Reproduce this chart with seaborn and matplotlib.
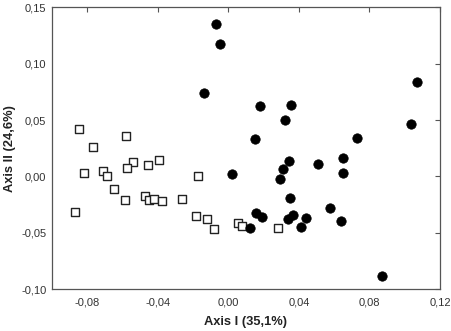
import matplotlib
matplotlib.use("Agg")
import matplotlib.pyplot as plt
import seaborn as sns
import pandas as pd
from matplotlib.ticker import FuncFormatter, FixedLocator

# Group A (open squares)
sq_x = [-0.0845, -0.0579, -0.0768, -0.0817, -0.0708, -0.0687, -0.0538, -0.0577,
        -0.0458, -0.0392, -0.0649, -0.0586, -0.0470, -0.0450, -0.0424, -0.0377,
        -0.0261, -0.0868, -0.0171, -0.0182, -0.0120, -0.0080, 0.0052, 0.0080, 0.0280]
sq_y = [0.0423, 0.0357, 0.0263, 0.0028, 0.0048, 0.0006, 0.0126, 0.0071,
        0.0104, 0.0142, -0.0109, -0.0207, -0.0177, -0.0211, -0.0198, -0.0215,
        -0.0198, -0.0317, 0.0006, -0.0346, -0.0378, -0.0466, -0.0408, -0.0443, -0.0457]

# Group B (filled circles)
ci_x = [-0.0071, -0.0048, -0.0139, 0.0177, 0.0150, 0.1068, 0.0358, 0.0320,
        0.1037, 0.0727, 0.0649, 0.0341, 0.0509, 0.0309, 0.0649, 0.0290,
        0.0020, 0.0350, 0.0577, 0.0158, 0.0190, 0.0339, 0.0369, 0.0441,
        0.0639, 0.0410, 0.0122, 0.0870]
ci_y = [0.1354, 0.1174, 0.0742, 0.0621, 0.0334, 0.0835, 0.0633, 0.0503,
        0.0463, 0.0345, 0.0166, 0.0135, 0.0114, 0.0070, 0.0031, -0.0020,
        0.0024, -0.0191, -0.0277, -0.0326, -0.0359, -0.0377, -0.0344, -0.0369,
        -0.0399, -0.0448, -0.0461, -0.0880]

x_ticks = [-0.08, -0.04, 0.00, 0.04, 0.08, 0.12]
y_ticks = [-0.10, -0.05, 0.00, 0.05, 0.10, 0.15]
x_label = "Axis I (35,1%)"
y_label = "Axis II (24,6%)"

sns.set_style("white")
plt.rcParams['font.family'] = ['Liberation Sans', 'DejaVu Sans']

fig = plt.figure(figsize=(4.51, 3.31), dpi=100)
ax = fig.add_axes([0.1153, 0.126, 0.8603, 0.852])

df_sq = pd.DataFrame({"x": sq_x, "y": sq_y})
df_ci = pd.DataFrame({"x": ci_x, "y": ci_y})

sns.scatterplot(data=df_sq, x="x", y="y", ax=ax, marker="s", s=36,
                facecolor="white", edgecolor="#222222", linewidth=1.0, zorder=3)
sns.scatterplot(data=df_ci, x="x", y="y", ax=ax, marker="o", s=46,
                color="black", edgecolor="black", linewidth=0.5, zorder=4)

ax.set_xlim(-0.10, 0.12)
ax.set_ylim(-0.10, 0.15)
ax.xaxis.set_major_locator(FixedLocator(x_ticks))
ax.yaxis.set_major_locator(FixedLocator(y_ticks))
fmt = FuncFormatter(lambda v, p: f"{v:.2f}".replace(".", ",").replace("-0,00", "0,00"))
ax.xaxis.set_major_formatter(fmt)
ax.yaxis.set_major_formatter(fmt)

for s in ax.spines.values():
    s.set_color("#555555")
    s.set_linewidth(0.9)
    s.set_visible(True)

ax.tick_params(axis="both", which="major", direction="out", length=3.6, width=0.8,
               color="#555555", labelsize=8, labelcolor="#333333",
               top=False, right=False)
ax.tick_params(axis="x", pad=2)
ax.tick_params(axis="y", pad=0.5)
sec_x = ax.secondary_xaxis("top")
sec_x.xaxis.set_major_locator(FixedLocator(x_ticks))
sec_x.tick_params(direction="in", length=3.6, width=0.8, color="#555555", labeltop=False)
sec_x.spines["top"].set_visible(False)
sec_y = ax.secondary_yaxis("right")
sec_y.yaxis.set_major_locator(FixedLocator(y_ticks))
sec_y.tick_params(direction="in", length=3.6, width=0.8, color="#555555", labelright=False)
sec_y.spines["right"].set_visible(False)

ax.set_xlabel(x_label, fontsize=9.3, fontweight="bold", color="#222222", labelpad=6.5)
ax.set_ylabel(y_label, fontsize=9.3, fontweight="bold", color="#222222", labelpad=4)

fig.savefig("out.png", dpi=100)
